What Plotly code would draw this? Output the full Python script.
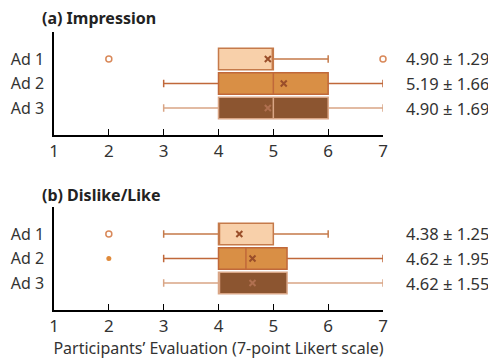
import plotly.graph_objects as go

ads = ["Ad 1", "Ad 2", "Ad 3"]
panels = ["(a) Impression", "(b) Dislike/Like"]

# Impression
imp_q1 = [4, 4, 4]
imp_med = [5, 5, 5]
imp_q3 = [5, 6, 6]
imp_lo = [4, 3, 3]
imp_hi = [6, 7, 7]
imp_mean = [4.90, 5.19, 4.90]
imp_sd = [1.29, 1.66, 1.69]
imp_out = [[2, 7], [], []]

# Dislike/Like
lik_q1 = [4, 4, 4]
lik_med = [4, 4.5, 4]
lik_q3 = [5, 5.25, 5.25]
lik_lo = [3, 3, 3]
lik_hi = [6, 7, 7]
lik_mean = [4.38, 4.62, 4.62]
lik_sd = [1.25, 1.95, 1.55]
lik_out = [[2], [2], []]
lik_out_filled = [False, True, False]

fills = ["#F8D0AA", "#D98F45", "#8C5530"]
lines = ["#C57A4A", "#C0683A", "#D9A585"]
out_col = ["#D9895A", "#E08A3A", "#D9895A"]
mean_cols = ["#9A4E2A", "#9A4E2A", "#B07050"]

font_family = "Noto Sans, sans-serif"
text_col = "#333333"

# the page adds an 8px body margin, so the figure is drawn 8px right/down
OFF = 8
W, H = 496 - OFF, 361 - OFF
ML, MT = 54 - OFF, 32 - OFF
plot_w = 383 - 54
plot_h = 310 - 32
MR = W - ML - plot_w
MB = H - MT - plot_h

def px_x(sx):
    return (sx - OFF - ML) / plot_w

def px_y(sy):
    return (H - MB - (sy - OFF)) / plot_h

fig = go.Figure()

datasets = [
    (imp_q1, imp_med, imp_q3, imp_lo, imp_hi, imp_mean, imp_sd, imp_out, [False]*3),
    (lik_q1, lik_med, lik_q3, lik_lo, lik_hi, lik_mean, lik_sd, lik_out, lik_out_filled),
]

for p, (q1, med, q3, lo, hi, mean, sd, outs, filled) in enumerate(datasets):
    xa = "x" if p == 0 else "x2"
    ya = "y" if p == 0 else "y2"
    for i, ad in enumerate(ads):
        fig.add_trace(go.Box(
            orientation="h", y=[ad], q1=[q1[i]], median=[med[i]], q3=[q3[i]],
            lowerfence=[lo[i]], upperfence=[hi[i]],
            fillcolor=fills[i], line=dict(color=lines[i], width=1.5),
            width=0.88, whiskerwidth=0.35, boxpoints=False,
            xaxis=xa, yaxis=ya, showlegend=False, hoverinfo="skip",
        ))
        fig.add_trace(go.Scatter(
            x=[mean[i]], y=[ad], mode="markers",
            marker=dict(symbol="x-thin", size=6, line=dict(color=mean_cols[i], width=2), color=mean_cols[i]),
            xaxis=xa, yaxis=ya, showlegend=False, hoverinfo="skip", cliponaxis=False,
        ))
        if outs[i]:
            if filled[i]:
                mk = dict(symbol="circle", size=5, color=out_col[1])
            else:
                mk = dict(symbol="circle-open", size=6, color=out_col[0], line=dict(width=1.5, color=out_col[0]))
            fig.add_trace(go.Scatter(
                x=outs[i], y=[ad]*len(outs[i]), mode="markers", marker=mk,
                xaxis=xa, yaxis=ya, showlegend=False, hoverinfo="skip", cliponaxis=False,
            ))
        fig.add_annotation(
            x=px_x(404), y=ad, xref="paper", yref=ya, xanchor="left", yanchor="middle",
            text=f"{mean[i]:.2f} ± {sd[i]:.2f}", showarrow=False,
            font=dict(size=16.5, color=text_col, family=font_family),
        )

top_dom = [px_y(135), 1.0]
bot_dom = [0.0, px_y(207)]

xcommon = dict(range=[1, 7], tickvals=[1, 2, 3, 4, 5, 6, 7], showline=True, linecolor="black",
               linewidth=1.5, ticks="inside", ticklen=6, tickcolor="black", showgrid=False,
               zeroline=False, automargin=False,
               tickfont=dict(size=17, color=text_col, family=font_family))
ycommon = dict(type="category", categoryorder="array", categoryarray=ads,
               range=[2 + 1.1, -1.1], showline=True, linecolor="black", linewidth=1.5,
               ticks="", showgrid=False, zeroline=False, automargin=False,
               tickfont=dict(size=16, color=text_col, family=font_family), ticklabelstandoff=5)

fig.update_layout(
    width=W, height=H,
    margin=dict(l=ML, r=MR, t=MT, b=MB),
    paper_bgcolor="white", plot_bgcolor="white",
    boxmode="overlay",
    xaxis=dict(**xcommon, anchor="y"),
    yaxis=dict(**ycommon, domain=top_dom, anchor="x"),
    xaxis2=dict(**xcommon, anchor="y2",
                title=dict(text="Participants’ Evaluation (7-point Likert scale)", standoff=4,
                           font=dict(size=16, color=text_col, family=font_family))),
    yaxis2=dict(**ycommon, domain=bot_dom, anchor="x2"),
)

for txt, py in [("<b>(a) Impression</b>", 18), ("<b>(b) Dislike/Like</b>", 195)]:
    fig.add_annotation(x=px_x(40), y=px_y(py), xref="paper", yref="paper",
                       text=txt, showarrow=False, xanchor="left", yanchor="middle",
                       font=dict(size=16, color="#222222", family=font_family))

fig.write_html("out.html")
